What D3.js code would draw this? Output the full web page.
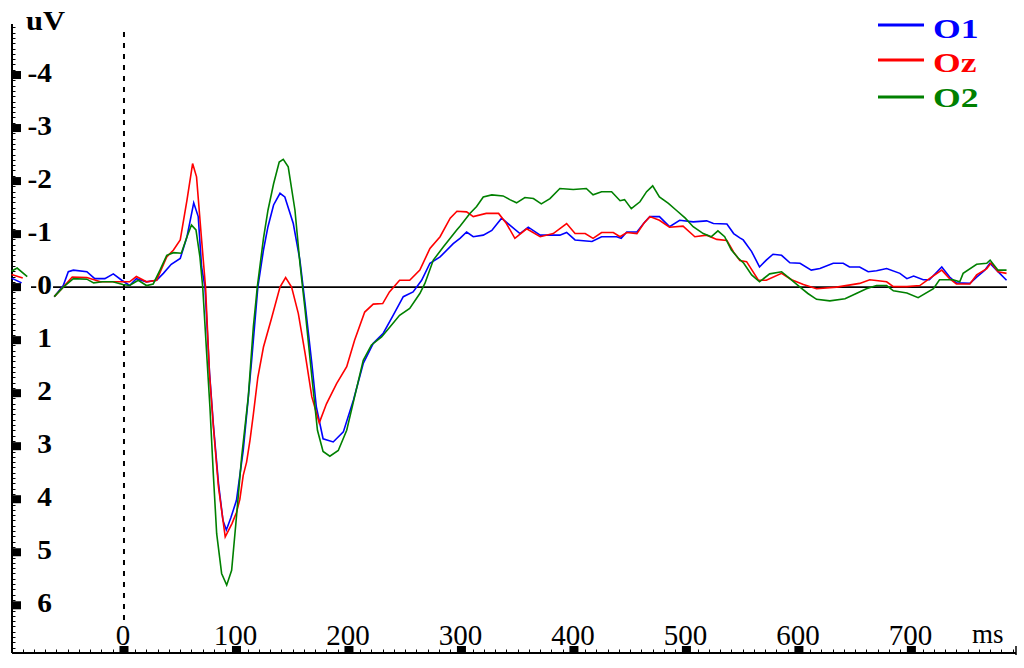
<!DOCTYPE html>
<html>
<head>
<meta charset="utf-8">
<script src="https://cdn.jsdelivr.net/npm/d3@7"></script>
<style>
  html, body { margin: 0; padding: 0; background: #fff; }
  svg { display: block; }
  text { font-family: "Liberation Serif", "DejaVu Serif", serif; }
</style>
</head>
<body>
<svg width="1024" height="668"></svg>
<script>
// values: [ms, uV]
const o1 = [[-62,0.18],[-54,-0.03],[-49.5,-0.29],[-45,-0.32],[-33,-0.29],[-26,-0.16],[-17,-0.16],[-9.5,-0.25],[-2,-0.13],[5,-0.03],[11,-0.16],[20,-0.1],[29,-0.13],[35,-0.26],[42,-0.43],[50,-0.54],[56,-0.95],[62,-1.59],[66,-1.33],[69,-0.38],[72,0],[76,1.6],[79.5,2.6],[84,3.7],[88,4.4],[91,4.58],[95,4.35],[100,4.02],[106,3.08],[110,2.2],[113.5,1.38],[119,0],[124,-0.7],[128,-1.14],[133,-1.55],[138.7,-1.77],[143,-1.7],[150.5,-1.2],[156.4,-0.51],[161,0.31],[167,1.44],[171,2.26],[177,2.86],[186,2.92],[195,2.73],[204,2.13],[212.7,1.44],[221.6,1.06],[230.5,0.87],[239.4,0.53],[248.3,0.18],[257,0.09],[264.6,-0.13],[272,-0.45],[281,-0.57],[292.7,-0.82],[298.7,-0.92],[304.6,-1.04],[310.5,-0.95],[319.4,-0.98],[327,-1.07],[335.7,-1.3],[343,-1.17],[352,-1.01],[359.4,-1.13],[370,-0.98],[387.5,-0.98],[393.5,-1.03],[401,-0.89],[416,-0.86],[424.6,-0.95],[438,-0.95],[442,-0.92],[447,-1.04],[456,-1.04],[463,-1.23],[467.5,-1.33],[476,-1.33],[485,-1.14],[494,-1.26],[506,-1.23],[518,-1.25],[524,-1.2],[536,-1.19],[542,-1.01],[547.5,-0.93],[550.5,-0.89],[558,-0.67],[565,-0.38],[571,-0.51],[577,-0.62],[584.6,-0.6],[592,-0.46],[601,-0.45],[611,-0.32],[618.7,-0.35],[630.5,-0.45],[639.4,-0.45],[645,-0.38],[654,-0.38],[661.6,-0.29],[669,-0.31],[678,-0.35],[689.8,-0.26],[696,-0.16],[702,-0.21],[710.5,-0.14],[716,-0.14],[727,-0.38],[734,-0.19],[740,-0.08],[752,-0.07],[758,-0.19],[765.3,-0.32],[769.8,-0.45],[775.7,-0.32],[784.6,-0.13]];

const oz = [[-62,0.18],[-54,0],[-46,-0.19],[-33,-0.18],[-21,-0.1],[-1,-0.1],[5,-0.1],[11,-0.2],[20,-0.1],[29,-0.13],[38,-0.57],[44,-0.7],[50,-0.89],[56,-1.64],[61,-2.33],[64.5,-2.08],[69,-0.89],[72.5,0],[76,1.63],[79.5,2.64],[84,3.77],[90,4.71],[96,4.46],[100,4.25],[103,4.0],[106,3.55],[109,3.3],[112,2.89],[115,2.4],[119,1.7],[124,1.13],[131,0.6],[138.7,0],[143.7,-0.18],[149,0],[155,0.5],[161,1.25],[167,2.07],[173.6,2.56],[180,2.2],[189,1.82],[198,1.5],[205,1.0],[214,0.47],[221.6,0.32],[230,0.31],[236,0.09],[245,-0.13],[254,-0.13],[263,-0.32],[272,-0.73],[281,-0.95],[290,-1.3],[296,-1.43],[304.6,-1.42],[310.5,-1.33],[322,-1.39],[333,-1.39],[340,-1.2],[347.5,-0.92],[358,-1.1],[370,-0.95],[381.6,-1.01],[393.5,-1.2],[401,-1.01],[410,-1.01],[417,-0.92],[424.6,-1.03],[435,-1.03],[441,-0.95],[447,-1.03],[456,-1.01],[462,-1.2],[467.5,-1.33],[476,-1.26],[485,-1.13],[497,-1.15],[507.5,-0.95],[518,-0.98],[527,-0.9],[536,-0.88],[542,-0.66],[547.5,-0.5],[553.5,-0.48],[564,-0.13],[571,-0.13],[584.6,-0.26],[593.5,-0.14],[604,-0.05],[615.7,0.03],[633.5,0],[654,-0.07],[663,-0.14],[678,-0.1],[684,-0.01],[696,-0.01],[707.5,-0.03],[716,-0.16],[727,-0.32],[734,-0.16],[740,-0.06],[752,-0.06],[758,-0.23],[767,-0.35],[771,-0.46],[777,-0.29],[784.6,-0.26]];

const o2 = [[-62,0.18],[-54,0],[-45,-0.16],[-33,-0.15],[-27,-0.08],[-19,-0.1],[-10,-0.1],[-1,-0.05],[5,-0.03],[12.7,-0.13],[20,-0.03],[26,-0.06],[32,-0.32],[38,-0.6],[44,-0.65],[51,-0.64],[56,-0.95],[60,-1.17],[64,-1.08],[67.5,-0.57],[70,0],[73.5,1.25],[76.4,2.26],[79.4,3.52],[82.4,4.65],[86.8,5.4],[91.3,5.62],[95.7,5.34],[100,4.33],[104.6,3.2],[110.5,2.07],[115,0.75],[118.5,0],[124,-0.92],[128,-1.45],[133,-1.95],[138,-2.36],[141.6,-2.41],[146,-2.27],[152,-1.45],[156.4,-0.45],[161,0.43],[167,1.69],[172,2.7],[177,3.1],[183,3.19],[190.5,3.08],[198,2.7],[205,2.07],[212.7,1.38],[220,1.09],[229,0.94],[236.4,0.75],[245,0.53],[254,0.4],[263,0.12],[267.5,-0.07],[275,-0.51],[284,-0.76],[296,-1.08],[298.7,-1.15],[307.5,-1.39],[313.5,-1.52],[319.4,-1.7],[327,-1.74],[337,-1.72],[343,-1.65],[349,-1.59],[356.4,-1.69],[364,-1.67],[371,-1.57],[378.7,-1.67],[387.5,-1.86],[399.4,-1.84],[411,-1.86],[417,-1.74],[424.6,-1.8],[433.5,-1.8],[441,-1.63],[445,-1.65],[451,-1.48],[458.7,-1.61],[464.6,-1.8],[470,-1.91],[476,-1.7],[484,-1.58],[491,-1.45],[499,-1.3],[506,-1.14],[515,-1.01],[522,-0.95],[528,-1.06],[534,-0.95],[540,-0.7],[546,-0.55],[551,-0.45],[558,-0.23],[565,-0.1],[574,-0.25],[584.6,-0.29],[592,-0.16],[601,0],[608,0.12],[615.7,0.23],[627.5,0.26],[641,0.22],[651,0.12],[660,0.03],[669,-0.03],[678,-0.03],[684,0.07],[696,0.11],[706,0.2],[719.6,0.03],[725,-0.14],[737,-0.14],[743,-0.1],[746,-0.26],[758,-0.43],[767,-0.45],[770,-0.51],[777,-0.32],[784.6,-0.32]];

// short pieces at the far left edge
const o1Pre = [[-100,-0.17],[-91,-0.08]];
const ozPre = [[-100,-0.24],[-90,-0.17]];
const o2Pre = [[-100,-0.3],[-95,-0.36],[-86,-0.2]];

const yTicks = [-4, -3, -2, -1, 0, 1, 2, 3, 4, 5, 6];
const yTickLabels = ["-4", "-3", "-2", "-1", "0", "1", "2", "3", "4", "5", "6"];
const xTicks = [0, 100, 200, 300, 400, 500, 600, 700];
const xTickLabels = ["0", "100", "200", "300", "400", "500", "600", "700"];

const names = ["O1", "Oz", "O2"];
const colors = ["#0000ff", "#ff0000", "#008000"];

const svg = d3.select('svg');

const x = d3.scaleLinear().domain([-100, 793]).range([11.5, 1016]);
const y = d3.scaleLinear().domain([-5, 6.9]).range([22, 653]);

const line = d3.line().x(d => x(d[0])).y(d => y(d[1]));

// axes lines
const axisX = 12;
svg.append('line')
    .attr('x1', axisX).attr('x2', axisX)
    .attr('y1', y(-4.96)).attr('y2', y(6.9))
    .attr('stroke', '#000').attr('stroke-width', 2);
svg.append('line')
    .attr('x1', axisX).attr('x2', x(793))
    .attr('y1', y(6.9)).attr('y2', y(6.9))
    .attr('stroke', '#000').attr('stroke-width', 2);
svg.append('line')
    .attr('x1', x(793)).attr('x2', x(793))
    .attr('y1', y(6.9) - 7).attr('y2', y(6.9) + 2)
    .attr('stroke', '#000').attr('stroke-width', 1.5);

// minor ticks
const yMinor = d3.range(-49, 69).map(d => d / 10);
svg.append('g').selectAll('line').data(yMinor)
    .enter().append('line')
    .attr('x1', axisX).attr('x2', axisX + 3.5)
    .attr('y1', d => Math.round(y(d)) + 0.5).attr('y2', d => Math.round(y(d)) + 0.5)
    .attr('stroke', '#000').attr('stroke-width', 1);

const xMinor = d3.range(-90, 791, 10);
svg.append('g').selectAll('line').data(xMinor)
    .enter().append('line')
    .attr('x1', d => Math.round(x(d)) + 0.5).attr('x2', d => Math.round(x(d)) + 0.5)
    .attr('y1', y(6.9)).attr('y2', y(6.9) - 3.5)
    .attr('stroke', '#000').attr('stroke-width', 1);

// major tick blocks
svg.append('g').selectAll('rect').data(yTicks)
    .enter().append('rect')
    .attr('x', axisX).attr('y', d => y(d) - 4)
    .attr('width', 9).attr('height', 8)
    .attr('fill', '#000');

svg.append('g').selectAll('rect').data(xTicks)
    .enter().append('rect')
    .attr('x', d => x(d) - 4.5).attr('y', y(6.9) - 7)
    .attr('width', 9).attr('height', 7)
    .attr('fill', '#000');

// zero line and stimulus onset
svg.append('line')
    .attr('x1', 31).attr('x2', x(785))
    .attr('y1', y(0)).attr('y2', y(0))
    .attr('stroke', '#000').attr('stroke-width', 1.6);

svg.append('line')
    .attr('x1', x(0)).attr('x2', x(0))
    .attr('y1', 32).attr('y2', 620)
    .attr('stroke', '#000').attr('stroke-width', 2)
    .attr('stroke-dasharray', '5,6');

// y labels
const yl = svg.append('g').selectAll('g').data(yTicks)
    .enter().append('g')
    .attr('transform', d => `translate(52,${y(d) + 7}) scale(1.05,1)`);
yl.filter(d => d === 0).append('rect')
    .attr('x', -15).attr('y', -20).attr('width', 16).attr('height', 22)
    .attr('fill', '#fff');
yl.append('text')
    .attr('text-anchor', 'end')
    .attr('font-size', 28).attr('font-weight', 'bold')
    .text((d, i) => yTickLabels[i]);

// x labels
svg.append('g').selectAll('text').data(xTicks)
    .enter().append('text')
    .attr('x', d => x(d) - 1).attr('y', 645)
    .attr('text-anchor', 'middle')
    .attr('font-size', 29)
    .text((d, i) => xTickLabels[i]);

svg.append('text')
    .attr('x', 972).attr('y', 643)
    .attr('font-size', 27)
    .text('ms');

svg.append('text')
    .attr('transform', 'translate(26,30) scale(1.13,1)')
    .attr('font-size', 27).attr('font-weight', 'bold')
    .text('uV');

// curves
const series = [[o1, o1Pre], [oz, ozPre], [o2, o2Pre]];
series.forEach((s, i) => {
    s.forEach(part => {
        svg.append('path')
            .attr('d', line(part))
            .attr('fill', 'none')
            .attr('stroke', colors[i])
            .attr('stroke-width', 1.6);
    });
});

// legend
const legY = [25, 60, 97];
const legBase = [38, 72, 107];
const leg = svg.append('g').selectAll('g').data(names)
    .enter().append('g');
leg.append('line')
    .attr('x1', 878).attr('x2', 924)
    .attr('y1', (d, i) => legY[i]).attr('y2', (d, i) => legY[i])
    .attr('stroke', (d, i) => colors[i]).attr('stroke-width', 3);
leg.append('text')
    .attr('transform', (d, i) => `translate(933,${legBase[i]}) scale(1.32,1)`)
    .attr('font-size', 27).attr('font-weight', 'bold')
    .attr('fill', (d, i) => colors[i])
    .text(d => d);
</script>
</body>
</html>
